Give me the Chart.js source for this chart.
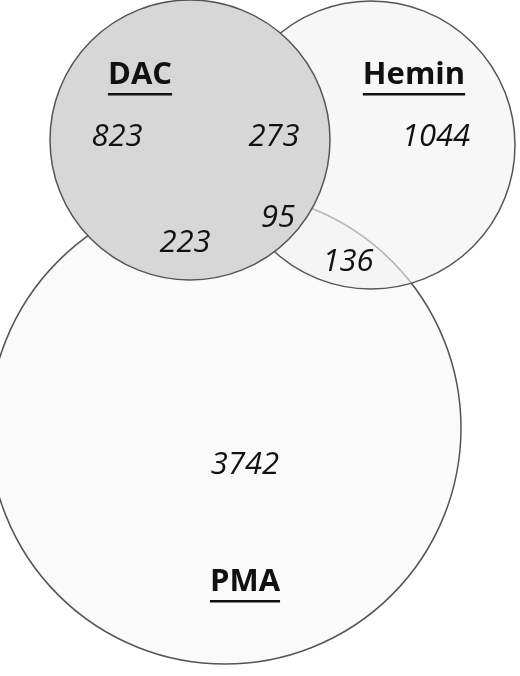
<!DOCTYPE html>
<html><head><meta charset="utf-8">
<script src="https://cdn.jsdelivr.net/npm/chart.js@4"></script>
<style>html,body{margin:0;background:#fff}</style>
</head><body><canvas id="c" width="520" height="676"></canvas>
<script>
// circles: name, centre x, centre y, radius (diagram units = px)
const sets = ["DAC", "Hemin", "PMA"];
const setX = [190, 371, 225];
const setY = [140, 145, 428];
const setR = [140, 144, 236];
const setFill = ["#d7d7d7", "rgba(242,242,242,0.62)", "rgba(246,246,246,0.6)"];

// region counts and where they sit
const counts = ["823", "273", "1044", "95", "223", "136", "3742"];
const countX = [117, 274, 436, 278, 185, 348, 245];
const countY = [137, 137, 137, 218, 243, 262, 465];
const titleX = [140, 414, 245];
const titleY = [75, 75, 582];

const textPlugin = {
  id: "vennText",
  afterDatasetsDraw(chart) {
    const { ctx, scales: { x, y } } = chart;
    ctx.save();
    ctx.fillStyle = "#111";
    ctx.textAlign = "center";
    ctx.textBaseline = "middle";
    ctx.font = "italic 31px 'Open Sans'";
    counts.forEach((t, i) => ctx.fillText(t, x.getPixelForValue(countX[i]), y.getPixelForValue(countY[i])));
    ctx.font = "bold 31px 'Open Sans'";
    sets.forEach((t, i) => {
      const px = x.getPixelForValue(titleX[i]), py = y.getPixelForValue(titleY[i]);
      ctx.fillText(t, px, py);
      const w = ctx.measureText(t).width;
      ctx.fillRect(px - w / 2, py + 18, w, 2.5);
    });
    ctx.restore();
  }
};

new Chart(document.getElementById("c"), {
  type: "bubble",
  data: {
    datasets: sets.map((s, i) => ({
      label: s,
      data: [{ x: setX[i], y: setY[i], r: setR[i] }],
      backgroundColor: setFill[i],
      borderColor: "#555",
      borderWidth: 1.5,
      hoverRadius: 0,
      clip: false
    }))
  },
  options: {
    responsive: false, animation: false,
    layout: { padding: 0, autoPadding: false },
    plugins: { legend: { display: false }, tooltip: { enabled: false } },
    scales: {
      x: { type: "linear", min: 0, max: 520, display: false },
      y: { type: "linear", min: 0, max: 676, reverse: true, display: false }
    }
  },
  plugins: [textPlugin]
});
</script></body></html>
